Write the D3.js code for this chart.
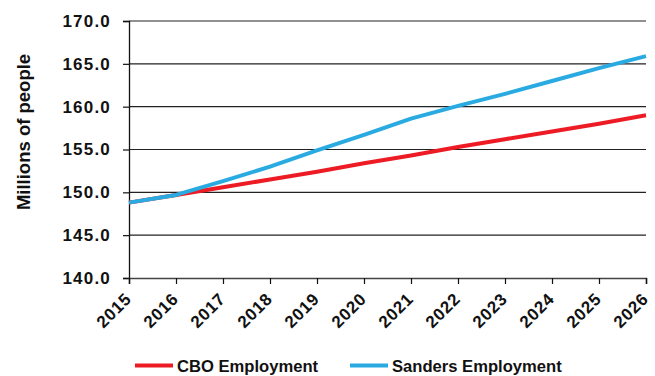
<!DOCTYPE html>
<html>
<head>
<meta charset="utf-8">
<script src="https://cdn.jsdelivr.net/npm/d3@7"></script>
<style>
  html, body { margin: 0; padding: 0; background: #fff; }
  svg { display: block; }
  text { font-family: "Liberation Sans", Arial, sans-serif; font-weight: bold; fill: #111; }
</style>
</head>
<body>
<svg id="chart" width="655" height="376"></svg>
<script>
const years = [2015, 2016, 2017, 2018, 2019, 2020, 2021, 2022, 2023, 2024, 2025, 2026];
const cboEmployment = [148.8, 149.7, 150.6, 151.5, 152.4, 153.4, 154.3, 155.3, 156.2, 157.1, 158.0, 159.0];
const sandersEmployment = [148.8, 149.7, 151.3, 153.0, 154.9, 156.7, 158.6, 160.1, 161.5, 163.0, 164.5, 165.9];
const yTicks = [140, 145, 150, 155, 160, 165, 170];
const seriesNames = ["CBO Employment", "Sanders Employment"];
const seriesColors = ["#ED1C24", "#29ABE2"];
const yTitle = "Millions of people";

const svg = d3.select("#chart");
const m = { left: 129, right: 646, top: 21, bottom: 278 };

const x = d3.scalePoint().domain(years).range([m.left, m.right]);
const y = d3.scaleLinear().domain([140, 170]).range([m.bottom, m.top]);

// gridlines
svg.append("g").selectAll("line").data(yTicks.filter(t => t > 140)).join("line")
  .attr("x1", m.left).attr("x2", m.right)
  .attr("y1", d => y(d)).attr("y2", d => y(d))
  .attr("stroke", "#222").attr("stroke-width", 1.2);

// y axis
const yAxis = svg.append("g").attr("transform", `translate(${m.left},0)`)
  .call(d3.axisLeft(y).tickValues(yTicks).tickFormat(d3.format(".1f")).tickSize(6).tickPadding(12));
yAxis.select(".domain").attr("stroke", "#111").attr("stroke-width", 1.3);
yAxis.selectAll(".tick line").attr("stroke", "#111").attr("stroke-width", 1.2);
yAxis.selectAll(".tick text").attr("font-size", 17).attr("letter-spacing", 1.2)
  .attr("font-family", "Liberation Sans, Arial, sans-serif").attr("font-weight", "bold").attr("fill", "#111");

// x axis
const xAxis = svg.append("g").attr("transform", `translate(0,${m.bottom})`)
  .call(d3.axisBottom(x).tickSize(6).tickFormat(d3.format("d")));
xAxis.select(".domain").attr("stroke", "#444").attr("stroke-width", 1.6);
xAxis.selectAll(".tick line").attr("stroke", "#111").attr("stroke-width", 1.2);
xAxis.selectAll(".tick text")
  .attr("font-size", 17).attr("letter-spacing", 0.8)
  .attr("font-family", "Liberation Sans, Arial, sans-serif").attr("font-weight", "bold").attr("fill", "#111")
  .attr("text-anchor", "end")
  .attr("y", 0).attr("dy", 0)
  .attr("transform", "translate(3,22) rotate(-45)");

// lines
const line = d3.line().x((d, i) => x(years[i])).y(d => y(d));
[cboEmployment, sandersEmployment].forEach((s, k) => {
  svg.append("path").datum(s)
    .attr("fill", "none")
    .attr("stroke", seriesColors[k])
    .attr("stroke-width", 4)
    .attr("stroke-linejoin", "round")
    .attr("d", line);
});

// y title
svg.append("text")
  .attr("transform", "translate(30,132) rotate(-90)")
  .attr("text-anchor", "middle")
  .attr("font-size", 18.5)
  .text(yTitle);

// legend
const legendX = [135, 350];
const lg = svg.append("g");
seriesNames.forEach((name, k) => {
  lg.append("line")
    .attr("x1", legendX[k]).attr("x2", legendX[k] + 38)
    .attr("y1", 365.5).attr("y2", 365.5)
    .attr("stroke", seriesColors[k]).attr("stroke-width", 4);
  lg.append("text")
    .attr("x", legendX[k] + 42).attr("y", 371.5)
    .attr("font-size", 16.6)
    .text(name);
});
</script>
</body>
</html>
